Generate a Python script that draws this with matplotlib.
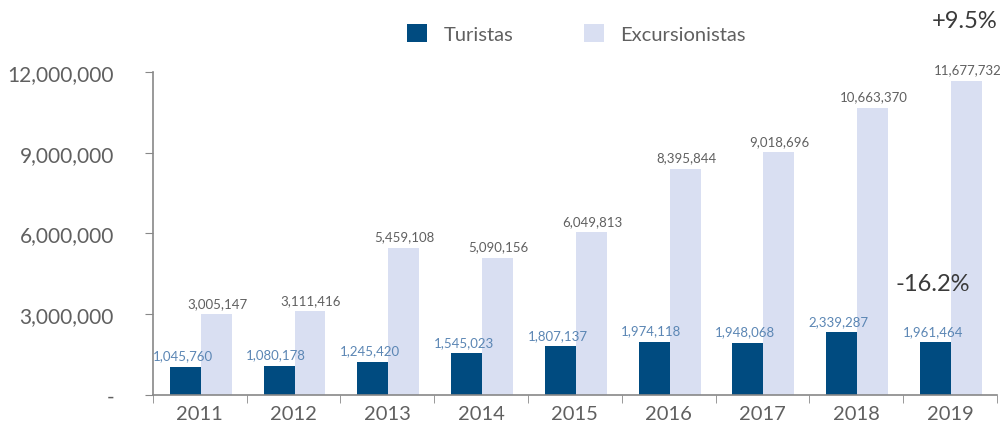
import numpy as np
import matplotlib.pyplot as plt
from matplotlib.ticker import FuncFormatter

plt.rcParams['font.family'] = ['Lato', 'DejaVu Sans']

anios = ['2011', '2012', '2013', '2014', '2015', '2016', '2017', '2018', '2019']
turistas = [1045760, 1080178, 1245420, 1545023, 1807137, 1974118, 1948068, 2339287, 1961464]
excursionistas = [3005147, 3111416, 5459108, 5090156, 6049813, 8395844, 9018696, 10663370, 11677732]

c_tur = '#004B80'
c_exc = '#D9DFF2'
gris = '#606060'

fig = plt.figure(figsize=(10.06, 4.31), dpi=100)
ax = fig.add_axes([0.152, 0.081, 0.839, 0.75])

x = np.arange(len(anios))
w = 0.33
b1 = ax.bar(x - w / 2 + 0.01, turistas, w, color=c_tur, label='Turistas')
b2 = ax.bar(x + w / 2 + 0.01, excursionistas, w, color=c_exc, label='Excursionistas')

for xi, v in zip(x, turistas):
    ax.text(xi - w / 2 - 0.02, v + 200000, f'{v:,}', ha='center', va='bottom',
            fontsize=9.5, color='#5B86B4')
for xi, v in zip(x, excursionistas):
    ax.text(xi + w / 2 + 0.02, v + 200000, f'{v:,}', ha='center', va='bottom',
            fontsize=9.5, color=gris)

ax.set_xlim(-0.5, len(anios) - 0.5)
ax.set_ylim(0, 12000000)
ax.set_yticks([0, 3000000, 6000000, 9000000, 12000000])
ax.yaxis.set_major_formatter(FuncFormatter(lambda v, p: '-' if v == 0 else f'{int(v):,}'))
ax.set_xticks(x)
ax.set_xticklabels(anios)
ax.set_xticks(np.arange(len(anios) + 1) - 0.5, minor=True)
ax.tick_params(axis='x', which='major', length=0, pad=7, labelsize=14.5, labelcolor=gris)
ax.tick_params(axis='x', which='minor', length=6, color='#888888', direction='out')
ax.tick_params(axis='y', length=6, color='#888888', labelsize=15, labelcolor=gris, pad=22)

for s in ['top', 'right']:
    ax.spines[s].set_visible(False)
for s in ['left', 'bottom']:
    ax.spines[s].set_color('#888888')
    ax.spines[s].set_linewidth(1.2)

ax.text(8.16, 13900000, '+9.5%', ha='center', va='center', fontsize=17, color='#3a3a3a')
ax.text(7.82, 4160000, '-16.2%', ha='center', va='center', fontsize=17, color='#3a3a3a')

fig.legend(handles=[b1, b2], loc='center', bbox_to_anchor=(0.573, 0.921), ncol=2, frameon=False,
           fontsize=14.5, handlelength=1.0, handleheight=1.0, columnspacing=3.5,
           labelcolor=gris)

plt.savefig('out.png', dpi=100)
